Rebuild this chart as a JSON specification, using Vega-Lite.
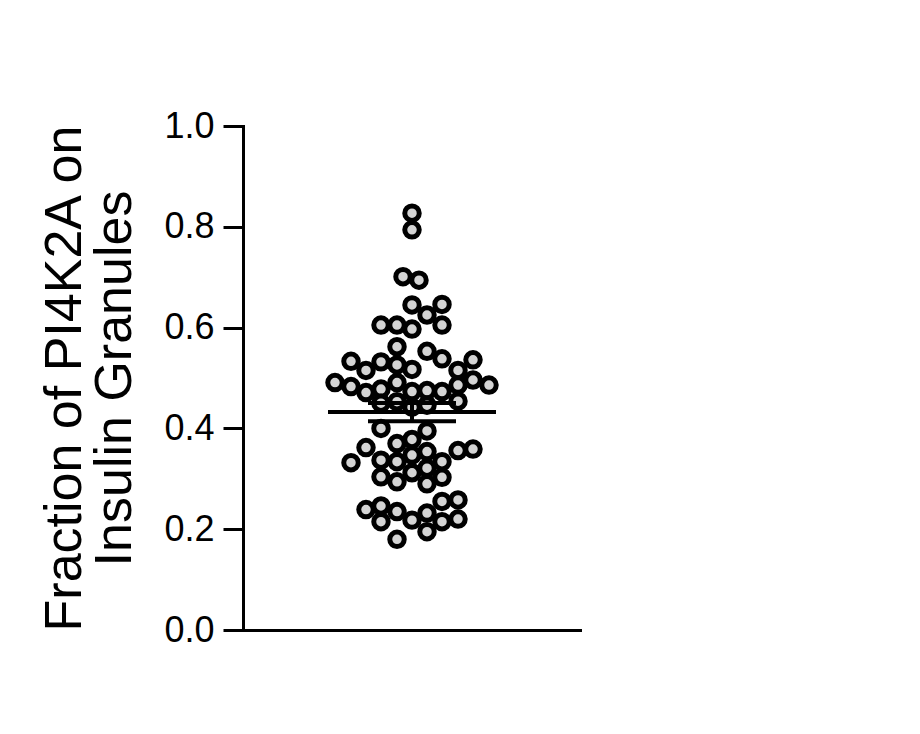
{
  "$schema": "https://vega.github.io/schema/vega-lite/v6.json",
  "autosize": "none",
  "width": 337,
  "height": 504,
  "padding": {"left": 243, "top": 126, "right": 340, "bottom": 104},
  "background": "white",
  "config": {
    "view": {"stroke": null},
    "font": "Liberation Sans",
    "axis": {
      "domainColor": "black",
      "domainWidth": 3,
      "tickColor": "black",
      "tickWidth": 3,
      "grid": false,
      "labelColor": "black",
      "titleColor": "black"
    }
  },
  "data": {
    "values": [
      {"jitter": 169, "fraction": 0.827},
      {"jitter": 169, "fraction": 0.794},
      {"jitter": 160, "fraction": 0.701},
      {"jitter": 176, "fraction": 0.694},
      {"jitter": 169, "fraction": 0.645},
      {"jitter": 199, "fraction": 0.646},
      {"jitter": 184, "fraction": 0.625},
      {"jitter": 138, "fraction": 0.605},
      {"jitter": 154, "fraction": 0.605},
      {"jitter": 169, "fraction": 0.597},
      {"jitter": 199, "fraction": 0.605},
      {"jitter": 154, "fraction": 0.562},
      {"jitter": 184, "fraction": 0.553},
      {"jitter": 199, "fraction": 0.538},
      {"jitter": 108, "fraction": 0.533},
      {"jitter": 138, "fraction": 0.532},
      {"jitter": 230, "fraction": 0.536},
      {"jitter": 123, "fraction": 0.515},
      {"jitter": 154, "fraction": 0.526},
      {"jitter": 169, "fraction": 0.517},
      {"jitter": 215, "fraction": 0.515},
      {"jitter": 92, "fraction": 0.491},
      {"jitter": 108, "fraction": 0.483},
      {"jitter": 123, "fraction": 0.471},
      {"jitter": 138, "fraction": 0.478},
      {"jitter": 154, "fraction": 0.491},
      {"jitter": 169, "fraction": 0.473},
      {"jitter": 184, "fraction": 0.475},
      {"jitter": 199, "fraction": 0.473},
      {"jitter": 215, "fraction": 0.486},
      {"jitter": 230, "fraction": 0.496},
      {"jitter": 246, "fraction": 0.486},
      {"jitter": 215, "fraction": 0.454},
      {"jitter": 138, "fraction": 0.450},
      {"jitter": 154, "fraction": 0.453},
      {"jitter": 184, "fraction": 0.446},
      {"jitter": 169, "fraction": 0.442},
      {"jitter": 138, "fraction": 0.400},
      {"jitter": 184, "fraction": 0.395},
      {"jitter": 123, "fraction": 0.362},
      {"jitter": 154, "fraction": 0.370},
      {"jitter": 169, "fraction": 0.378},
      {"jitter": 215, "fraction": 0.356},
      {"jitter": 230, "fraction": 0.359},
      {"jitter": 108, "fraction": 0.332},
      {"jitter": 138, "fraction": 0.337},
      {"jitter": 154, "fraction": 0.334},
      {"jitter": 169, "fraction": 0.347},
      {"jitter": 184, "fraction": 0.354},
      {"jitter": 199, "fraction": 0.334},
      {"jitter": 184, "fraction": 0.321},
      {"jitter": 138, "fraction": 0.304},
      {"jitter": 154, "fraction": 0.294},
      {"jitter": 169, "fraction": 0.312},
      {"jitter": 199, "fraction": 0.303},
      {"jitter": 184, "fraction": 0.290},
      {"jitter": 123, "fraction": 0.239},
      {"jitter": 138, "fraction": 0.246},
      {"jitter": 154, "fraction": 0.235},
      {"jitter": 199, "fraction": 0.255},
      {"jitter": 215, "fraction": 0.258},
      {"jitter": 138, "fraction": 0.215},
      {"jitter": 169, "fraction": 0.218},
      {"jitter": 184, "fraction": 0.232},
      {"jitter": 199, "fraction": 0.215},
      {"jitter": 215, "fraction": 0.220},
      {"jitter": 184, "fraction": 0.195},
      {"jitter": 154, "fraction": 0.180}
    ]
  },
  "layer": [
    {
      "mark": {"type": "point", "shape": "circle", "filled": true, "fill": "#d4d4d4", "stroke": "black", "strokeWidth": 5, "size": 210, "opacity": 1},
      "encoding": {
        "x": {
          "field": "jitter",
          "type": "quantitative",
          "scale": {"domain": [0, 337], "nice": false, "zero": false},
          "axis": {"title": null, "labels": false, "ticks": false, "domainCap": "square"}
        },
        "y": {
          "field": "fraction",
          "type": "quantitative",
          "scale": {"domain": [0, 1], "nice": false},
          "axis": {
            "title": ["Fraction of PI4K2A on", "Insulin Granules"],
            "titleFontSize": 52,
            "titleFontWeight": "normal",
            "titleLineHeight": 50,
            "titlePadding": 22,
            "values": [0, 0.2, 0.4, 0.6, 0.8, 1.0],
            "format": ".1f",
            "labelFontSize": 36,
            "labelPadding": 9,
            "tickSize": 20,
            "domainCap": "square"
          }
        }
      }
    },
    {
      "mark": {"type": "rule", "color": "black", "strokeWidth": 4},
      "encoding": {
        "x": {"datum": 85, "type": "quantitative"},
        "x2": {"datum": 253},
        "y": {"aggregate": "mean", "field": "fraction", "type": "quantitative"}
      }
    },
    {
      "transform": [
        {"aggregate": [{"op": "mean", "field": "fraction", "as": "m"}, {"op": "stderr", "field": "fraction", "as": "se"}]},
        {"calculate": "datum.m - datum.se", "as": "lo"},
        {"calculate": "datum.m + datum.se", "as": "hi"}
      ],
      "layer": [
        {
          "mark": {"type": "rule", "color": "black", "strokeWidth": 4},
          "encoding": {
            "x": {"datum": 125, "type": "quantitative"},
            "x2": {"datum": 213},
            "y": {"field": "lo", "type": "quantitative"}
          }
        },
        {
          "mark": {"type": "rule", "color": "black", "strokeWidth": 4},
          "encoding": {
            "x": {"datum": 125, "type": "quantitative"},
            "x2": {"datum": 213},
            "y": {"field": "hi", "type": "quantitative"}
          }
        },
        {
          "mark": {"type": "rule", "color": "black", "strokeWidth": 4},
          "encoding": {
            "x": {"datum": 169, "type": "quantitative"},
            "y": {"field": "lo", "type": "quantitative"},
            "y2": {"field": "hi"}
          }
        }
      ]
    }
  ]
}
